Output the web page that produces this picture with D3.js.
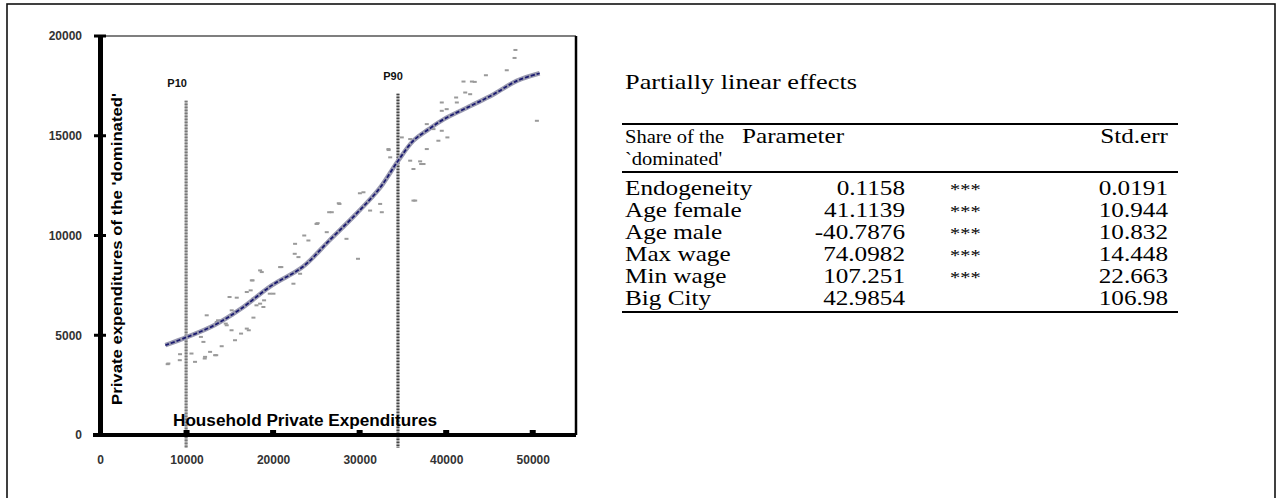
<!DOCTYPE html>
<html><head><meta charset="utf-8">
<script src="https://cdn.jsdelivr.net/npm/d3@7"></script>
<style>
html,body{margin:0;padding:0;background:#fff;}
svg{display:block;}
</style></head>
<body>
<svg id="chart" width="1277" height="498"></svg>
<script>
// ---- data ----
const xTicks = [0, 10000, 20000, 30000, 40000, 50000];
const yTicks = [0, 5000, 10000, 15000, 20000];
const xAxisTitle = "Household Private Expenditures";
const yAxisTitle = "Private expenditures of the 'dominated'";

const curveX = [7550, 10100, 13200, 16300, 19850, 23400, 26500, 29600, 32250, 34450, 36200, 38000, 39750, 42850, 45500, 48150, 50800];
const curveY = [4500, 4917, 5500, 6333, 7500, 8417, 9750, 11083, 12333, 13750, 14750, 15333, 15833, 16500, 17083, 17750, 18133];

const scatterX = [48000, 47900, 47000, 44590, 42970, 42000, 42200, 41150, 42770, 41230, 39490, 40060, 39490, 37760, 38530, 39490, 39100, 40140, 50480, 35840, 34870, 37760, 33330, 33530, 35840, 36990, 37380, 36220, 36420, 32370, 30440, 31210, 32560, 27670, 26780, 25040, 30030, 27590, 26480, 25150, 23600, 28480, 29810, 36220, 33350, 37110, 43300,
  7820, 9250, 10980, 11950, 12140, 12720, 13300, 14060, 15600, 12330, 13490, 14640, 16960, 17730, 15220, 15800, 17730, 18500, 18880, 16960, 17540, 18690, 20810, 20040, 22350, 23120, 22930, 22540, 24080, 25040, 26200, 7900, 9220, 10570, 12100, 13430, 11660, 13640, 14530, 15200, 16300, 17190, 15200, 14970, 17410, 17630, 18500, 18960, 18080, 19620, 20950, 22500];
const scatterY = [19300, 18900, 18283, 18033, 17717, 17717, 17167, 16917, 17083, 16667, 16667, 16333, 16250, 15583, 15333, 15250, 14750, 14917, 15750, 14833, 14917, 14333, 14333, 13917, 13750, 13717, 13583, 13333, 11750, 11583, 12167, 11250, 11167, 11583, 11167, 10583, 12117, 11617, 11167, 10617, 10000, 9833, 8833, 11750, 14283, 13583, 17700,
  3550, 4050, 3667, 4667, 3917, 4167, 4000, 4450, 4750, 6000, 5667, 5500, 5333, 5883, 6250, 6883, 6833, 6583, 6417, 7167, 7750, 8167, 8417, 7083, 7583, 8083, 8917, 9583, 9750, 10583, 10167, 3583, 3750, 4083, 3833, 4000, 4917, 5750, 5583, 5250, 5083, 5250, 6000, 6917, 7250, 7750, 8250, 6750, 6500, 7083, 8417, 9083];

const pctLabels = ["P10", "P90"];
const pctValues = [9950, 34430];
const pctTop = [16750, 17100];

const tableTitle = "Partially linear effects";
const headLabel = ["Share of the", "`dominated'"];
const headParam = "Parameter";
const headStd = "Std.err";
const rowLabels = ["Endogeneity", "Age female", "Age male", "Max wage", "Min wage", "Big City"];
const paramValues = ["0.1158", "41.1139", "-40.7876", "74.0982", "107.251", "42.9854"];
const starMarks = ["***", "***", "***", "***", "***", ""];
const stdErrs = ["0.0191", "10.944", "10.832", "14.448", "22.663", "106.98"];

// ---- drawing ----
const svg = d3.select("#chart");
svg.append("rect").attr("x", 7).attr("y", 4).attr("width", 1268).attr("height", 600)
  .attr("fill", "none").attr("stroke", "#111").attr("stroke-width", 1.6);

const x = d3.scaleLinear().domain([0, 55000]).range([100, 576]);
const y = d3.scaleLinear().domain([0, 20000]).range([435, 36]);

const g = svg.append("g");
// plot frame (top and right)
g.append("line").attr("x1", x(0)).attr("x2", x(55000)).attr("y1", y(20000)).attr("y2", y(20000)).attr("stroke", "#000").attr("stroke-width", 1.2);
g.append("line").attr("x1", x(55000)).attr("x2", x(55000)).attr("y1", y(20000)).attr("y2", y(0)).attr("stroke", "#000").attr("stroke-width", 2.5);

// percentile lines
pctValues.forEach((v, i) => {
  g.append("line").attr("x1", x(v)).attr("x2", x(v)).attr("y1", y(pctTop[i])).attr("y2", y(0) + 13)
    .attr("stroke", "#b0b0b0").attr("stroke-width", 3);
  g.append("line").attr("x1", x(v)).attr("x2", x(v)).attr("y1", y(pctTop[i])).attr("y2", y(0) + 13)
    .attr("stroke", i === 0 ? "#666" : "#222").attr("stroke-width", 3).attr("stroke-dasharray", "1 2");
  g.append("text").attr("x", x(v) - (i === 0 ? 9 : 5)).attr("y", y(pctTop[i]) - 14)
    .attr("text-anchor", "middle").attr("font-family", "Arial, 'Liberation Sans', sans-serif")
    .attr("font-weight", "bold").attr("font-size", 11).attr("fill", "#111").text(pctLabels[i]);
});

// scatter
g.selectAll("rect.pt").data(scatterX).enter().append("rect").attr("class", "pt")
  .attr("x", (d) => x(d) - 2).attr("y", (d, i) => y(scatterY[i]) - 1)
  .attr("width", 4).attr("height", 2).attr("fill", "#9a9a9a");

// curve
const pts = curveX.map((d, i) => [d, curveY[i]]);
const line = d3.line().x(d => x(d[0])).y(d => y(d[1])).curve(d3.curveCatmullRom);
g.append("path").attr("d", line(pts)).attr("fill", "none").attr("stroke", "#9a9ab0").attr("stroke-width", 4.5);
g.append("path").attr("d", line(pts)).attr("fill", "none").attr("stroke", "#1a1a70").attr("stroke-width", 1.8).attr("stroke-dasharray", "4 2");

// axes
const yAxis = g.append("g").attr("transform", `translate(${x(0)},0)`)
  .call(d3.axisLeft(y).tickValues(yTicks).tickSize(0).tickPadding(18).tickFormat(d3.format("d")));
yAxis.select(".domain").attr("stroke", "#000").attr("stroke-width", 5);
yAxis.selectAll("text").attr("font-family", "Arial, 'Liberation Sans', sans-serif").attr("font-weight", "bold").attr("font-size", 12).attr("fill", "#333");
yTicks.forEach(t => g.append("line").attr("x1", x(0) - 6).attr("x2", x(0) + 6).attr("y1", y(t)).attr("y2", y(t)).attr("stroke", "#000").attr("stroke-width", 3));

const xAxis = g.append("g").attr("transform", `translate(0,${y(0)})`)
  .call(d3.axisBottom(x).tickValues(xTicks).tickSize(0).tickPadding(20).tickFormat(d3.format("d")));
xAxis.select(".domain").attr("d", `M${x(0) - 7},0H${x(55000)}`).attr("stroke", "#000").attr("stroke-width", 4);
xAxis.selectAll("text").attr("font-family", "Arial, 'Liberation Sans', sans-serif").attr("font-weight", "bold").attr("font-size", 12).attr("fill", "#333");
xTicks.slice(1).forEach(t => g.append("rect").attr("x", x(t) - 3).attr("y", y(0) - 5).attr("width", 6).attr("height", 4).attr("fill", "#000"));

// axis titles
g.append("text").attr("transform", `translate(118,${(93 + 405) / 2}) rotate(-90)`)
  .attr("text-anchor", "middle").attr("dominant-baseline", "middle")
  .attr("font-family", "Arial, 'Liberation Sans', sans-serif").attr("font-weight", "bold").attr("font-size", 14)
  .attr("textLength", 312).attr("lengthAdjust", "spacingAndGlyphs").attr("fill", "#000").text(yAxisTitle);
g.append("text").attr("x", 305).attr("y", 426).attr("text-anchor", "middle")
  .attr("font-family", "Arial, 'Liberation Sans', sans-serif").attr("font-weight", "bold").attr("font-size", 16)
  .attr("textLength", 264).attr("lengthAdjust", "spacingAndGlyphs").attr("fill", "#000").text(xAxisTitle);

// ---- table ----
const T = svg.append("g").attr("font-family", "'Times New Roman', 'Liberation Serif', serif").attr("fill", "#000");
function txt(X, Y, s, anchor, size, sx, width) {
  const t = T.append("text").attr("transform", `translate(${X},${Y}) scale(${sx || 1.2},1)`)
    .attr("text-anchor", anchor || "start").attr("font-size", size || 21).text(s);
  if (width) t.attr("textLength", width / (sx || 1.2)).attr("lengthAdjust", "spacingAndGlyphs");
}
txt(625, 89, tableTitle, "start", 21, 1.2, 232);
const rule = (yy) => T.append("line").attr("x1", 622).attr("x2", 1178).attr("y1", yy).attr("y2", yy).attr("stroke", "#000").attr("stroke-width", 2);
rule(124); rule(172); rule(312);
txt(625, 143, headLabel[0], "start", 19, 1.08); txt(625, 165, headLabel[1], "start", 19, 1.08);
txt(742, 143, headParam);
txt(1168, 143, headStd, "end");
rowLabels.forEach((r, i) => {
  const by = 195 + i * 22;
  txt(625, by, r);
  txt(905, by, paramValues[i], "end");
  txt(950, by, starMarks[i], "start", 17);
  txt(1168, by, stdErrs[i], "end");
});
</script>
</body></html>
